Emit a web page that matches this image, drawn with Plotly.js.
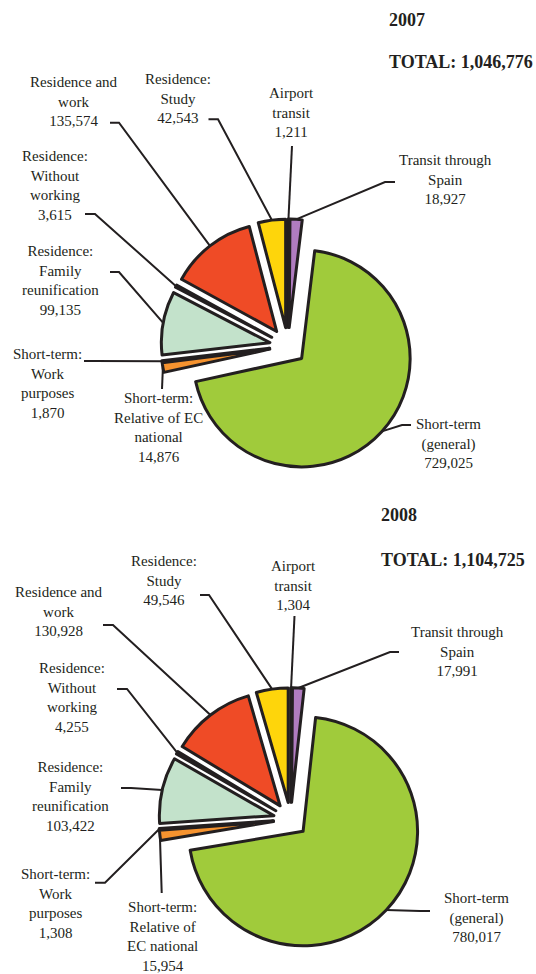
<!DOCTYPE html>
<html>
<head>
<meta charset="utf-8">
<script src="https://cdn.plot.ly/plotly-3.0.1.min.js"></script>
<style>
html,body{margin:0;padding:0;background:#fff;}
#chart{width:536px;height:974px;}
</style>
</head>
<body>
<div id="chart"></div>
<script>
// ---------------- DATA ----------------
const years = ["2007", "2008"];
const categories = [
  "Airport transit",
  "Transit through Spain",
  "Short-term (general)",
  "Short-term: Relative of EC national",
  "Short-term: Work purposes",
  "Residence: Family reunification",
  "Residence: Without working",
  "Residence and work",
  "Residence: Study"
];
const labels2007 = [
  "Airport<br>transit",
  "Transit through<br>Spain",
  "Short-term<br>(general)",
  "Short-term:<br>Relative of EC<br>national",
  "Short-term:<br>Work<br>purposes",
  "Residence:<br>Family<br>reunification",
  "Residence:<br>Without<br>working",
  "Residence and<br>work",
  "Residence:<br>Study"
];
const labels2008 = [
  "Airport<br>transit",
  "Transit through<br>Spain",
  "Short-term<br>(general)",
  "Short-term:<br>Relative of<br>EC national",
  "Short-term:<br>Work<br>purposes",
  "Residence:<br>Family<br>reunification",
  "Residence:<br>Without<br>working",
  "Residence and<br>work",
  "Residence:<br>Study"
];
const values2007 = [1211, 18927, 729025, 14876, 1870, 99135, 3615, 135574, 42543];
const values2008 = [1304, 17991, 780017, 15954, 1308, 103422, 4255, 130928, 49546];

// ---------------- STYLE / LAYOUT ----------------
const W = 536, H = 974;
const INK = "#231f20";
const sliceColors = ["#231f20", "#b07cc0", "#a0cb3b", "#f6932f", "#231f20", "#c3e2cb", "#231f20", "#ef4b26", "#fed50b"];
const FONT = "Liberation Serif, Times New Roman, serif";

// pie geometry (pixel centre, path radius, pull fraction)
const pies = [
  {cx: 288, cy: 346, r: 108.5, pull: 0.17, titleX: 386.5, yearY: 20, totalY: 61.7},
  {cx: 290.6, cy: 819.5, r: 114.5, pull: 0.15, titleX: 378.5, yearY: 515, totalY: 560}
];
// label placement: text centre (tx,ty), leader start (sx,sy), elbow (ex,ey)
const labelPos = [
  [
    {tx: 291, ty: 112, sx: 292, sy: 146, ex: 292, ey: 146},
    {tx: 445, ty: 180, sx: 395, sy: 182, ex: 385, ey: 182},
    {tx: 448, ty: 443, sx: 411, sy: 425, ex: 402, ey: 425},
    {tx: 158, ty: 427, sx: 162, sy: 389, ex: 162, ey: 389},
    {tx: 47, ty: 383.5, sx: 84, sy: 361, ex: 94, ey: 361},
    {tx: 60, ty: 280, sx: 110, sy: 272, ex: 119, ey: 272},
    {tx: 55, ty: 185.5, sx: 85, sy: 214, ex: 95, ey: 214},
    {tx: 73.5, ty: 101.5, sx: 110, sy: 122.7, ex: 119, ey: 122.7},
    {tx: 178, ty: 99, sx: 208.5, sy: 119.3, ex: 218, ey: 119.3}
  ],
  [
    {tx: 293, ty: 585, sx: 294.5, sy: 616, ex: 294.5, ey: 616},
    {tx: 457, ty: 651, sx: 399, sy: 652, ex: 390, ey: 652},
    {tx: 476, ty: 917, sx: 430, sy: 911, ex: 420, ey: 911},
    {tx: 162.5, ty: 936, sx: 161.7, sy: 893, ex: 161.7, ey: 893},
    {tx: 55, ty: 903.5, sx: 95, sy: 882.7, ex: 105, ey: 882.7},
    {tx: 70, ty: 796, sx: 121, sy: 788, ex: 131, ey: 788},
    {tx: 72, ty: 697, sx: 117, sy: 689, ex: 127, ey: 689},
    {tx: 59, ty: 611, sx: 103, sy: 625, ex: 113, ey: 625},
    {tx: 164, ty: 580, sx: 200, sy: 595, ex: 209, ey: 595}
  ]
];

const allValues = [values2007, values2008];
const allLabels = [labels2007, labels2008];

const fmt = v => v.toLocaleString("en-US");
const px = x => x / W;
const py = y => 1 - y / H;

const traces = [];
const annotations = [];
const shapes = [];

pies.forEach((g, k) => {
  const vals = allValues[k];
  const box = 2 * g.r * (1 + g.pull);
  traces.push({
    type: "pie",
    values: vals,
    labels: categories,
    sort: false,
    direction: "clockwise",
    rotation: 0,
    pull: vals.map(() => g.pull),
    marker: {colors: sliceColors, line: {color: INK, width: 3}},
    textinfo: "none",
    hoverinfo: "label+value",
    showlegend: false,
    domain: {
      x: [(g.cx - box / 2) / W, (g.cx + box / 2) / W],
      y: [1 - (g.cy + box / 2) / H, 1 - (g.cy - box / 2) / H]
    }
  });

  const total = vals.reduce((a, b) => a + b, 0);
  annotations.push({
    xref: "paper", yref: "paper", x: px(g.titleX), y: py(g.yearY),
    xanchor: "left", yanchor: "middle", showarrow: false,
    text: years[k], font: {family: FONT, size: 18, color: INK, weight: "bold"}
  });
  annotations.push({
    xref: "paper", yref: "paper", x: px(g.titleX), y: py(g.totalY),
    xanchor: "left", yanchor: "middle", showarrow: false,
    text: "TOTAL: " + fmt(total), font: {family: FONT, size: 18, color: INK, weight: "bold"}
  });

  // slice mid-angles (clockwise from 12 o'clock) from the values
  let cum = 0;
  vals.forEach((v, i) => {
    const a0 = cum / total * 2 * Math.PI;
    cum += v;
    const a1 = cum / total * 2 * Math.PI;
    const mid = (a0 + a1) / 2;
    const dist = g.r * (1 + g.pull);
    const tx = g.cx + dist * Math.sin(mid);
    const ty = g.cy - dist * Math.cos(mid);
    const L = labelPos[k][i];
    annotations.push({
      xref: "paper", yref: "paper", x: px(L.tx), y: py(L.ty),
      xanchor: "center", yanchor: "middle", showarrow: false, align: "center",
      text: allLabels[k][i] + "<br>" + fmt(v),
      font: {family: FONT, size: 15, color: INK}
    });
    shapes.push({
      type: "path", xref: "paper", yref: "paper", layer: "below",
      path: `M ${px(L.sx)} ${py(L.sy)} L ${px(L.ex)} ${py(L.ey)} L ${px(tx)} ${py(ty)}`,
      line: {color: INK, width: 2}
    });
  });
});

const layout = {
  width: W, height: H,
  margin: {l: 0, r: 0, t: 0, b: 0},
  paper_bgcolor: "#ffffff",
  plot_bgcolor: "#ffffff",
  showlegend: false,
  annotations: annotations,
  shapes: shapes
};

Plotly.newPlot("chart", traces, layout, {displayModeBar: false, staticPlot: true});
</script>
</body>
</html>
